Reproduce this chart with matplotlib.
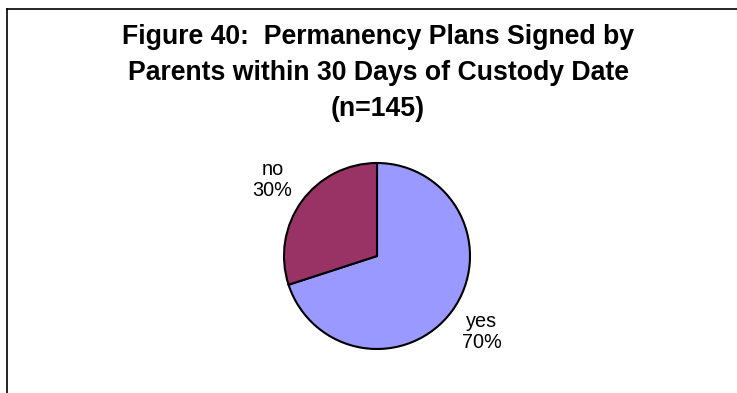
import matplotlib
matplotlib.use("Agg")
import matplotlib.pyplot as plt
from matplotlib.lines import Line2D

plt.rcParams['font.family'] = ['Liberation Sans', 'DejaVu Sans']

categories = ['yes', 'no']
counts = [70, 30]
colors = ['#9999FF', '#993366']
title_lines = ['Figure 40:  Permanency Plans Signed by',
               'Parents within 30 Days of Custody Date',
               '(n=145)']

W, H = 737, 393
fig = plt.figure(figsize=(W / 100, H / 100), dpi=100)

# chart frame (top and left edges visible)
fig.add_artist(Line2D([7 / W, 7 / W], [0, 1 - 9 / H], color='black', lw=1.2))
fig.add_artist(Line2D([7 / W, 1], [1 - 9 / H, 1 - 9 / H], color='black', lw=1.2))

# title, one baseline per line
for i, line in enumerate(title_lines):
    fig.text(378 / W, 1 - (44 + 36 * i) / H, line, ha='center', va='baseline',
             fontsize=19.2, fontweight='bold')

# pie, center (377, 256) px from top-left, radius 93 px
r = 93
cx, cy = 377, H - 256
ax = fig.add_axes([(cx - r) / W, (cy - r) / H, 2 * r / W, 2 * r / H])
total = sum(counts)
labels = [f"{c}\n{round(100 * v / total)}%" for c, v in zip(categories, counts)]
wedges, texts = ax.pie(counts, labels=labels, colors=colors, startangle=90,
                       counterclock=False, labeldistance=1.39,
                       wedgeprops=dict(edgecolor='black', linewidth=1.5),
                       textprops=dict(fontsize=14.3, linespacing=1.15))
for t in texts:
    t.set_ha('center')
    t.set_va('center')
ax.set_xlim(-1, 1)
ax.set_ylim(-1, 1)
ax.set_aspect('equal')

fig.savefig('out.png', dpi=100)
